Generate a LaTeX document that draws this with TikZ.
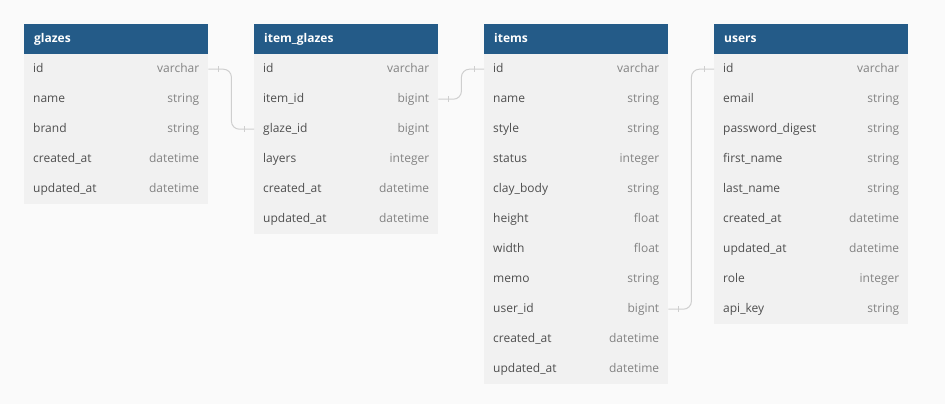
\documentclass[tikz,border=0pt]{standalone}
\usepackage{fontspec}
\setmainfont{Open Sans}
\usetikzlibrary{calc}
\definecolor{pagebg}{HTML}{FAFAFA}
\definecolor{hdrblue}{HTML}{245B88}
\definecolor{rowbg}{HTML}{F1F1F1}
\definecolor{namec}{HTML}{4F4F4F}
\definecolor{typec}{HTML}{838383}
\definecolor{connc}{HTML}{CFCFCF}
\tikzset{
  hdrbox/.style={anchor=north west, minimum height=30pt, inner sep=0pt, fill=hdrblue, draw=none},
  hdrtext/.style={anchor=base west, inner sep=0pt, text=white, font=\fontsize{12}{14}\selectfont\bfseries},
  rowbox/.style={anchor=north west, minimum height=30pt, inner sep=0pt, fill=rowbg, draw=none},
  nametext/.style={anchor=base west, inner sep=0pt, text=namec, font=\fontsize{12}{14}\selectfont},
  typetext/.style={anchor=base east, inner sep=0pt, text=typec, font=\fontsize{12}{14}\selectfont},
  conn/.style={draw=connc, line width=1pt, rounded corners=8pt},
  tick/.style={draw=connc, line width=1pt},
}
% #1 key, #2 x, #3 width, #4 title, #5 rows
\newcommand{\dbtable}[5]{%
  \node[hdrbox, minimum width=#3pt] (#1) at (#2,24) {};
  \node[hdrtext] (#1-title) at ([xshift=10pt,yshift=-3.4pt]#1.west) {#4};
  \foreach \n/\t [count=\i] in {#5} {
    \node[rowbox, minimum width=#3pt] (#1-\i) at (#2,{24+30*\i}) {};
    \node[nametext] (#1-\i-n) at ([xshift=9pt,yshift=-3.6pt]#1-\i.west) {\n};
    \node[typetext] (#1-\i-t) at ([xshift=-9pt,yshift=-3.6pt]#1-\i.east) {\t};
  }
}
\newcommand{\relconn}[2]{%
  \draw[conn] (#1.east) -- ++(23,0) |- (#2.west);
  \draw[tick] ([xshift=10pt,yshift=3pt]#1.east) -- ([xshift=10pt,yshift=-3pt]#1.east);
  \draw[tick] ([xshift=-10pt,yshift=3pt]#2.west) -- ([xshift=-10pt,yshift=-3pt]#2.west);
}
\begin{document}
\begin{tikzpicture}[x=1pt,y=-1pt]
  \fill[pagebg] (0,0) rectangle (945,404);
  \useasboundingbox (0,0) rectangle (945,404);
  \dbtable{glazes}{24}{184}{glazes}{id/varchar, name/string, brand/string, created\_at/datetime, updated\_at/datetime}
  \dbtable{ig}{254}{184}{item\_glazes}{id/varchar, item\_id/bigint, glaze\_id/bigint, layers/integer, created\_at/datetime, updated\_at/datetime}
  \dbtable{items}{484}{184}{items}{id/varchar, name/string, style/string, status/integer, clay\_body/string, height/float, width/float, memo/string, user\_id/bigint, created\_at/datetime, updated\_at/datetime}
  \dbtable{users}{714}{194}{users}{id/varchar, email/string, password\_digest/string, first\_name/string, last\_name/string, created\_at/datetime, updated\_at/datetime, role/integer, api\_key/string}
  \relconn{glazes-1}{ig-3}
  \relconn{ig-2}{items-1}
  \relconn{items-9}{users-1}
\end{tikzpicture}
\end{document}
